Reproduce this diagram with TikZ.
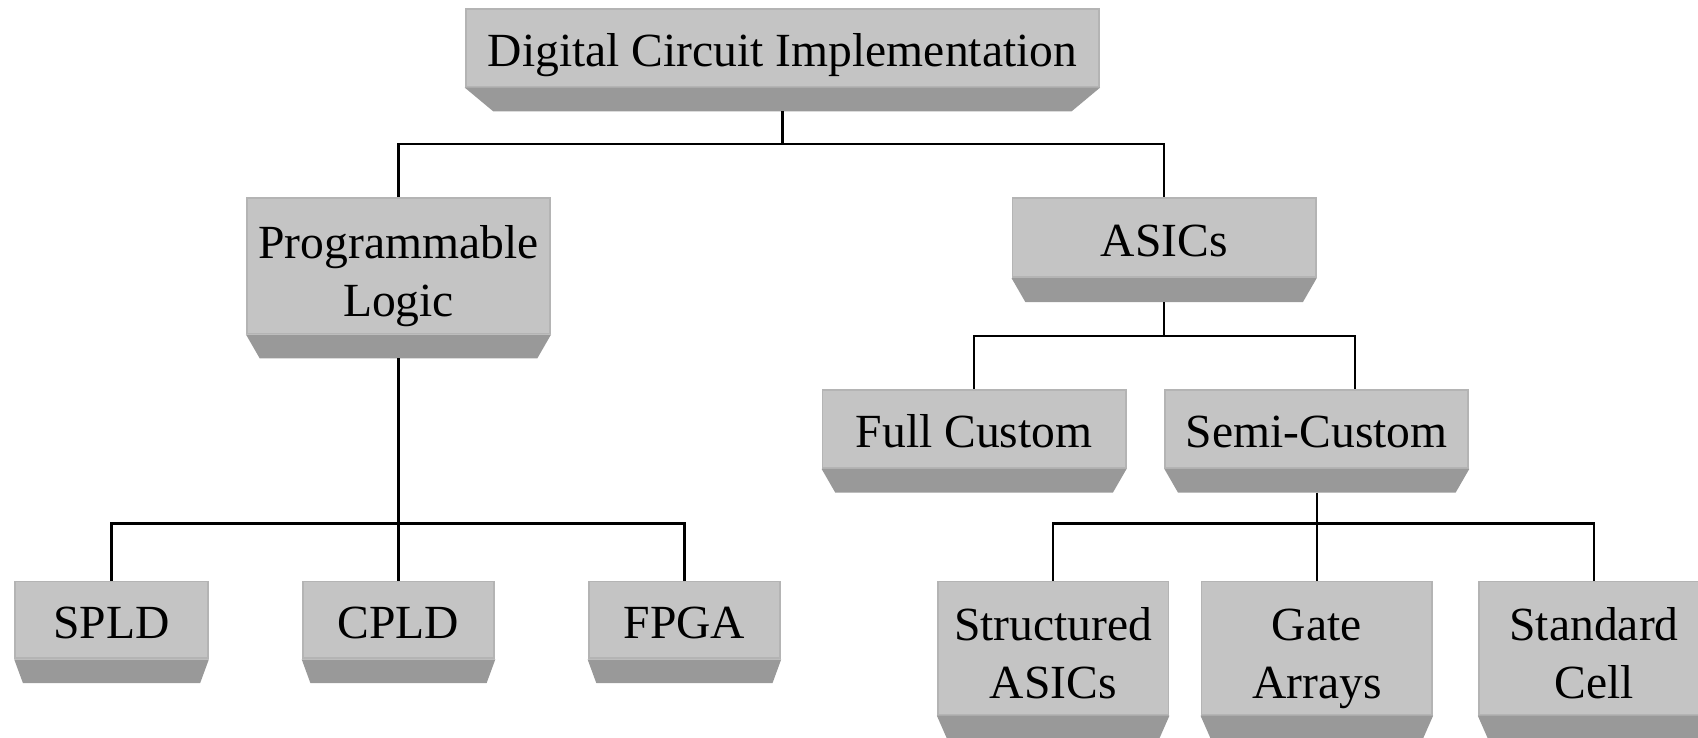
\documentclass[tikz,border=0pt]{standalone}
\usepackage{fontspec}
\setmainfont{Liberation Serif}
\usetikzlibrary{calc}
\definecolor{facegray}{RGB}{196,196,196}
\definecolor{edgegray}{RGB}{180,180,180}
\definecolor{bevelgray}{RGB}{153,153,153}
\newcommand\tstrut{\rule[-0.09cm]{0pt}{0.53cm}}
\newcommand\tallstrut{\rule{0pt}{0.49cm}}
\tikzset{
	card/.style={fill=facegray,draw=edgegray,line width=0.5pt,align=center,inner sep=0pt,
		minimum height=0.72cm,font=\fontsize{12.5}{15.3}\selectfont,
		execute at begin node=\tstrut},
	wire/.style={line width=0.7pt,draw=black},
}

\begin{document}
\begin{tikzpicture}
	\useasboundingbox (0,0) rectangle (15.68,-6.81);
	% boxes
	\node[card,minimum width=5.85cm] (top) at (7.225,-0.44) {Digital Circuit Implementation};
	\node[card,minimum width=2.80cm,minimum height=1.25cm] (prog) at (3.68,-2.455) {\tallstrut Programmable\\\tstrut Logic};
	\node[card,minimum width=2.80cm,minimum height=0.73cm] (asic) at (10.75,-2.195) {ASICs};
	\node[card,minimum width=1.78cm,minimum height=0.71cm] (spld) at (1.03,-5.725) {SPLD};
	\node[card,minimum width=1.77cm,minimum height=0.71cm] (cpld) at (3.68,-5.725) {CPLD};
	\node[card,minimum width=1.77cm,minimum height=0.71cm] (fpga) at (6.32,-5.725) {FPGA};
	\node[card,minimum width=2.80cm] (full) at (8.995,-3.96) {Full Custom};
	\node[card,minimum width=2.80cm] (semi) at (12.16,-3.96) {Semi-Custom};
	\node[card,minimum width=2.13cm,minimum height=1.23cm] (sasic) at (9.725,-5.985) {\tallstrut Structured\\\tstrut ASICs};
	\node[card,minimum width=2.13cm,minimum height=1.23cm] (garray) at (12.16,-5.985) {\tallstrut Gate\\\tstrut Arrays};
	\node[card,minimum width=2.13cm,minimum height=1.23cm] (scell) at (14.72,-5.985) {\tallstrut Standard\\\tstrut Cell};
	
	% dark underside of each box
	\foreach \n in {top,prog,asic,spld,cpld,fpga,full,semi,sasic,garray,scell}{
		\fill[bevelgray] (\n.south west) -- (\n.south east)
		-- ($(\n.south east)!0.045!(\n.south west)+(0,-0.22)$)
		-- ($(\n.south west)!0.045!(\n.south east)+(0,-0.22)$) -- cycle;
		\coordinate (\n-b) at ($(\n.south)+(0,-0.22)$);
	}
	
	% connectors
	\draw[wire] (prog.north) -- ++(0,0.49) coordinate (bus1) -| (asic.north);
	\draw[wire] (top-b) -- (top-b |- bus1);
	\draw[wire] (spld.north) -- ++(0,0.53) -| (fpga.north);
	\draw[wire] (prog-b) -- (cpld.north);
	\draw[wire] (full.north) -- ++(0,0.49) coordinate (bus3)
	-| ($(semi.north west)!0.625!(semi.north east)$);
	\draw[wire] (asic-b) -- (asic-b |- bus3);
	\draw[wire] (sasic.north) -- ++(0,0.53) -| (scell.north);
	\draw[wire] (semi-b) -- (garray.north);
\end{tikzpicture}
\end{document}
